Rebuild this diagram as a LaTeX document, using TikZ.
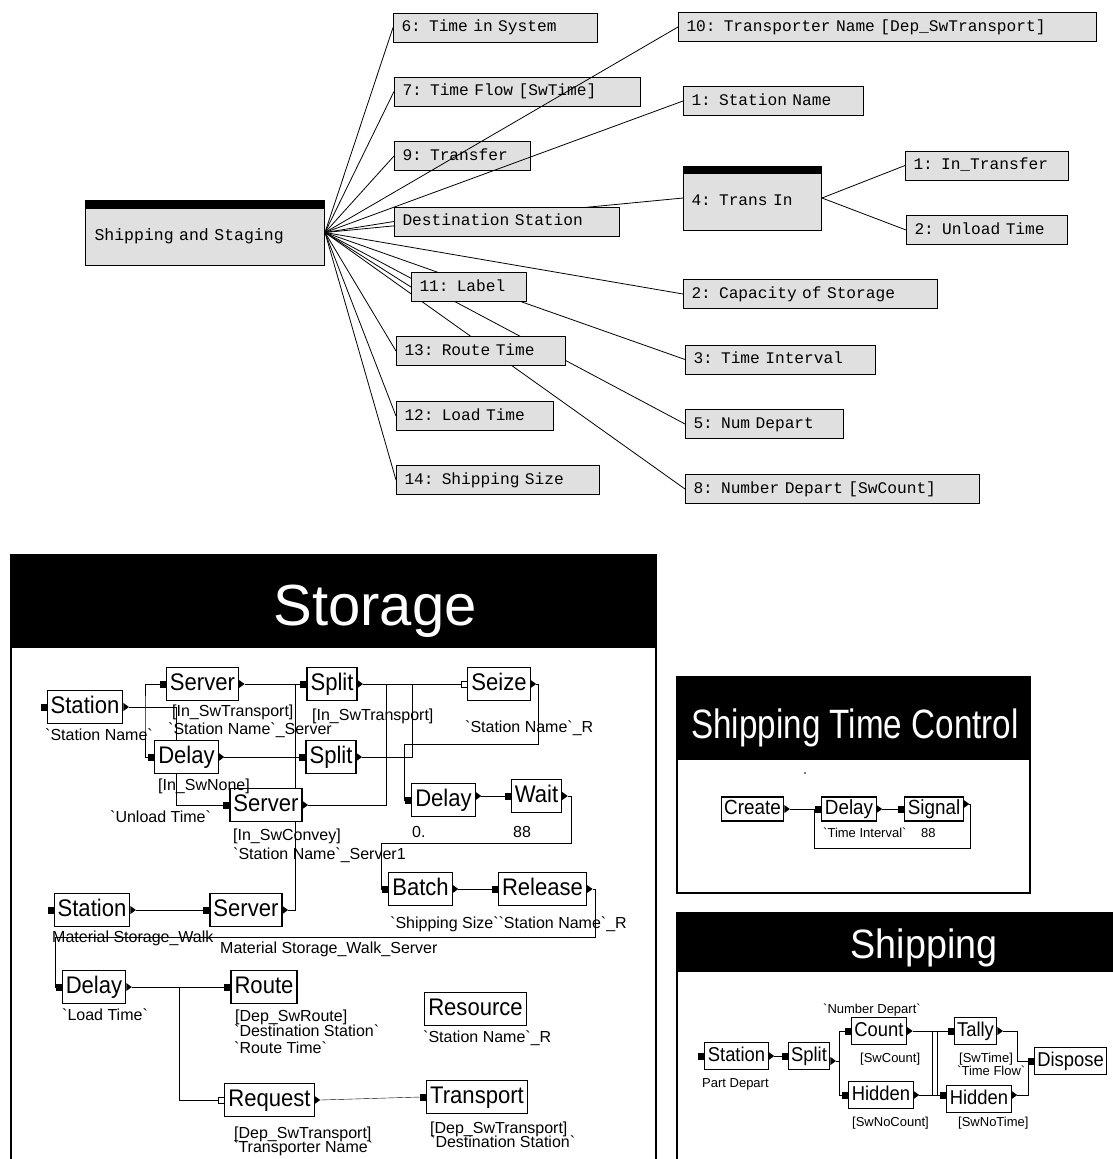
\documentclass[tikz,border=0pt]{standalone}
\usepackage{fontspec}
\newfontfamily\monofont{Liberation Mono}
\newfontfamily\sansfont{Liberation Sans}
\newfontfamily\narrowfont[FakeStretch=0.92]{Liberation Sans}
\newfontfamily\titlefont[FakeStretch=0.81]{Liberation Sans}
\usetikzlibrary{calc}
\pgfdeclarelayer{background}
\pgfsetlayers{background,main}

% grave quote as printed in the model labels
\newcommand{\bq}{\textasciigrave}
% port marks, given the port coordinate
\newcommand{\inmark}[1]{\fill ([yshift=-3.5pt]#1) rectangle ([xshift=6pt,yshift=3.5pt]#1);}
\newcommand{\hollowmark}[1]{\draw[line width=0.7pt,fill=white] ([yshift=-3pt]#1) rectangle ([xshift=6pt,yshift=3pt]#1);}
\newcommand{\outmark}[1]{\fill ([xshift=-5.5pt,yshift=4pt]#1) -- (#1) -- ([xshift=-5.5pt,yshift=-4pt]#1) -- cycle;}

\begin{document}
\begin{tikzpicture}[x=1pt, y=-1pt, line width=0.9pt,
  parm/.style={draw, fill=black!12, line width=1pt, anchor=west, inner xsep=8pt, inner ysep=0pt,
    minimum height=29pt, text height=11pt, text depth=3pt, text width=#1,
    font=\monofont\fontsize{16.2}{18}\selectfont},
  blk/.style={draw, fill=white, line width=1.1pt, inner xsep=3.5pt, inner ysep=0pt,
    minimum height=33pt, text height=18pt, text depth=5pt,
    font=\narrowfont\fontsize{24}{26}\selectfont},
  blks/.style={blk, minimum height=24pt, text height=15pt, text depth=4pt, inner xsep=3pt,
    font=\narrowfont\fontsize{20.5}{22}\selectfont},
  blkp/.style={blk, minimum height=27pt, text height=15pt, text depth=4pt, inner xsep=3pt,
    font=\narrowfont\fontsize{20}{22}\selectfont},
  lbl/.style={anchor=west, inner sep=0pt, text height=11.5pt, text depth=0pt,
    font=\sansfont\fontsize{16}{18}\selectfont},
  slbl/.style={anchor=west, inner sep=0pt, text height=9.3pt, text depth=0pt,
    font=\sansfont\fontsize{13}{15}\selectfont},
  title/.style={anchor=base, inner sep=0pt, text=white}]

\useasboundingbox (0,0) rectangle (1113,1159);

% ------------------------------------------------------------------
% === parameter tree ===============================================
\node[parm=221pt, minimum height=65pt, text height=17pt, text depth=2pt, inner xsep=9pt,
  font=\monofont\fontsize{16.5}{18}\selectfont] (root) at (85,232.5) {Shipping and Staging};
\fill (root.north west) rectangle ([yshift=-9pt]root.north east);

\node[parm=188pt] (b6)    at (393,27.5)  {6: Time in System};
\node[parm=209pt] (bdest) at (394,221.5) {Destination Station};
\node[parm=402pt] (b10)   at (678,27)    {10: Transporter Name [Dep\_SwTransport]};
\node[parm=164pt] (b1)    at (683,101)   {1: Station Name};
\node[parm=122pt, minimum height=64pt, text height=17pt, text depth=2pt] (trans) at (683,198) {4: Trans In};
\fill (trans.north west) rectangle ([yshift=-8pt]trans.north east);
\node[parm=147pt] (bin)   at (905,165.5) {1: In\_Transfer};
\node[parm=145pt] (bunl)  at (906,230)   {2: Unload Time};
\node[parm=238pt] (b2)    at (683,294)   {2: Capacity of Storage};
\node[parm=174pt] (b3)    at (685,359.5) {3: Time Interval};
\node[parm=142pt] (b5)    at (685,424)   {5: Num Depart};
\node[parm=278pt] (b8)    at (685,489)   {8: Number Depart [SwCount]};
\node[parm=99pt]  (b11)   at (411,287)   {11: Label};
\node[parm=153pt] (b13)   at (396,351)   {13: Route Time};
\node[parm=141pt] (b12)   at (396,416)   {12: Load Time};
\node[parm=187pt] (b14)   at (396,480)   {14: Shipping Size};

% lines run over 7 and 9, under the other boxes
\begin{pgfonlayer}{background}
\node[parm=230pt] (b7)    at (394,91.5)  {7: Time Flow [SwTime]};
\node[parm=120pt] (b9)    at (394,156)   {9: Transfer};
\foreach \boxname in {b6,b7,b9,bdest,b10,b1,trans,b2,b3,b5,b8,b11,b13,b12,b14}
  \draw[line width=0.8pt] (root.east) -- (\boxname.west);
\draw[line width=0.8pt] (trans.east) -- (bin.west);
\draw[line width=0.8pt] (trans.east) -- (bunl.west);
\end{pgfonlayer}

% === Storage ======================================================
\fill (11,555) rectangle (656,648);
\draw[line width=1.2pt] (11,555) rectangle (656,1175);
\node[title, font=\sansfont\fontsize{58}{60}\selectfont] (tstor) at (375,625) {Storage};

\node[blk] (st1) at (85,707)     {Station};
\node[blk] (sv1) at (202.5,684)  {Server};
\node[blk] (dl1) at (186.5,757)  {Delay};
\node[blk] (sv2) at (266,805)    {Server};
\node[blk] (sp1) at (332,684)    {Split};
\node[blk] (sp2) at (331,757)    {Split};
\node[blk] (sz)  at (499,684)    {Seize};
\node[blk] (dl2) at (443.5,800)  {Delay};
\node[blk] (wt)  at (536.5,796)  {Wait};
\node[blk] (bt)  at (420.5,889)  {Batch};
\node[blk] (rl)  at (542.5,889)  {Release};
\node[blk] (st2) at (92,910)     {Station};
\node[blk] (sv3) at (246,910)    {Server};
\node[blk] (dl3) at (94,987)     {Delay};
\node[blk] (rt)  at (264,987)    {Route};
\node[blk] (rs)  at (475.5,1009) {Resource};
\node[blk] (rq)  at (269.5,1100) {Request};
\node[blk] (tp)  at (477,1097)   {Transport};

\node[lbl] at (45,735)   {\bq Station Name\bq};
\node[lbl] at (172,711)  {[In\_SwTransport]};
\node[lbl] at (168,729)  {\bq Station Name\bq\_Server};
\node[lbl] at (158,785)  {[In\_SwNone]};
\node[lbl] at (110,817)  {\bq Unload Time\bq};
\node[lbl] at (233,835)  {[In\_SwConvey]};
\node[lbl] at (233,854)  {\bq Station Name\bq\_Server1};
\node[lbl] at (312,715)  {[In\_SwTransport]};
\node[lbl] at (465,727)  {\bq Station Name\bq\_R};
\node[lbl] at (412,832)  {0.};
\node[lbl] at (513,832)  {88};
\node[lbl] at (390,923)  {\bq Shipping Size\bq\bq Station Name\bq\_R};
\node[lbl] at (52,937)   {Material Storage\_Walk};
\node[lbl] at (220,948)  {Material Storage\_Walk\_Server};
\node[lbl] at (62,1015)  {\bq Load Time\bq};
\node[lbl] at (235,1016) {[Dep\_SwRoute]};
\node[lbl] at (234,1031) {\bq Destination Station\bq};
\node[lbl] at (234,1048) {\bq Route Time\bq};
\node[lbl] at (423,1037) {\bq Station Name\bq\_R};
\node[lbl] at (234,1133) {[Dep\_SwTransport]};
\node[lbl] at (233,1147) {\bq Transporter Name\bq};
\node[lbl] at (430,1128) {[Dep\_SwTransport]};
\node[lbl] at (430,1142) {\bq Destination Station\bq};

% === Shipping Time Control ========================================
\fill (677,677) rectangle (1030,760);
\draw[line width=1.2pt] (677,677) rectangle (1030,893);
\node[title, font=\titlefont\fontsize{41}{44}\selectfont] (tstc) at (855,738) {Shipping Time Control};
\fill (805,773) circle (0.8pt);

\node[blks] (cr)  at (752.5,809) {Create};
\node[blks] (dl4) at (849,809)   {Delay};
\node[blks] (sg)  at (934,809)   {Signal};

\node[slbl] at (823,833) {\bq Time Interval\bq};
\node[slbl] at (921,833) {88};

% === Shipping =====================================================
\fill (677,912) rectangle (1120,972);
\draw[line width=1.2pt] (677,912) -- (677,1175);
\node[title, font=\narrowfont\fontsize{41}{44}\selectfont] (tshp) at (924,958) {Shipping};

\node[blkp] (st3) at (736.5,1056) {Station};
\node[blkp] (sp3) at (809,1056)   {Split};
\node[blkp] (ct)  at (879,1031)   {Count};
\node[blkp] (hd1) at (881,1095)   {Hidden};
\node[blkp] (tl)  at (975.5,1031) {Tally};
\node[blkp] (hd2) at (979,1099)   {Hidden};
\node[blkp] (dp)  at (1070.5,1061) {Dispose};

\node[slbl] at (702,1083) {Part Depart};
\node[slbl] at (823,1009) {\bq Number Depart\bq};
\node[slbl] at (860,1058) {[SwCount]};
\node[slbl] at (852,1122) {[SwNoCount]};
\node[slbl] at (959,1058) {[SwTime]};
\node[slbl] at (957,1071) {\bq Time Flow\bq};
\node[slbl] at (958,1122) {[SwNoTime]};

% --- ports ---------------------------------------------------------
\foreach \nm in {st1,sv1,dl1,sv2,sp1,sp2,sz,dl2,wt,bt,rl,st2,sv3,dl3,rt,rq,tp,
                 cr,dl4,sg,st3,sp3,ct,hd1,tl,hd2,dp} {
  \coordinate (\nm-i) at ([xshift=-6pt]\nm.west);
  \coordinate (\nm-o) at ([xshift=5.5pt]\nm.east);
}
\coordinate (dl2-o) at ([xshift=5.5pt,yshift=4pt]dl2.east);
\coordinate (sg-o)  at ([xshift=5.5pt,yshift=5pt]sg.east);
\coordinate (hd2-i) at ([xshift=-6pt,yshift=4pt]hd2.west);
\coordinate (hd2-o) at ([xshift=5.5pt,yshift=4pt]hd2.east);
\coordinate (sp3-o) at ([xshift=5.5pt,yshift=-5pt]sp3.east);

% junctions
\coordinate (jA) at (176,707);   \coordinate (jB) at (145,707);
\coordinate (jC) at (295,684);   \coordinate (jD) at (386,684);
\coordinate (jE) at (412,684);   \coordinate (jF) at (538,744);
\coordinate (jG) at (404,800);   \coordinate (jH) at (571,843);
\coordinate (jI) at (381,889);   \coordinate (jJ) at (595,937);
\coordinate (jK) at (55,987);    \coordinate (jL) at (179,987);
\coordinate (jM) at (970,848);   \coordinate (jN) at (814,809);
\coordinate (jP) at (839,1061);  \coordinate (jQ) at (932,1031);
\coordinate (jR) at (932,1095);  \coordinate (jS) at (937,1031);
\coordinate (jT) at (937,1095);  \coordinate (jU) at (1017,1061);
\coordinate (jV) at (1028,1061);

% --- connectors ----------------------------------------------------
\begin{pgfonlayer}{background}
\draw (st1-o) -- (jA) |- (sv2-i);
\draw (sv1-i) -| (jB) |- (dl1-i);
\draw (sv1-o) -- (sp1-i);
\draw (sv3-o) -| (jC);
\draw (dl1-o) -- (sp2-i);
\draw (sp1-o) -- (sz-i);
\draw (sv2-o) -| (jD);
\draw (sp2-o) -| (jE);
\draw (sz-o) -| (jF) -| (jG) -- (dl2-i);
\draw (dl2-o) -- (wt-i);
\draw (wt-o) -| (jH) -| (jI) -- (bt-i);
\draw (bt-o) -- (rl-i);
\draw (rl-o) -| (jJ) -| (jK) -- (dl3-i);
\draw (st2-o) -- (sv3-i);
\draw (dl3-o) -- (rt-i);
\draw (jL) |- (rq-i);
\draw (rq-o) -- (tp-i);

\draw (cr-o) -- (dl4-i);
\draw (dl4-o) -- (sg-i);
\draw (sg-o) -| (jM) -| (jN);

\draw (st3-o) -- (sp3-i);
\draw (ct-i) -| (jP) |- (hd1-i);
\draw (sp3-o) -- (jP);
\draw (ct-o) -- (tl-i);
\draw (hd1-o) -- (hd2-i);
\draw (jQ) -- (jR);
\draw (jS) -- (jT);
\draw (tl-o) -| (jU) -- (dp-i);
\draw (hd2-o) -| (jV);
\end{pgfonlayer}

% --- port marks ----------------------------------------------------
\foreach \nm in {st1,sv1,dl1,sv2,sp1,sp2,dl2,wt,bt,rl,st2,sv3,dl3,rt,tp,
                 dl4,sg,st3,sp3,ct,hd1,tl,hd2,dp}
  {\inmark{\nm-i}}
\foreach \nm in {sz,rq}
  {\hollowmark{\nm-i}}
\foreach \nm in {st1,sv1,dl1,sv2,sp1,sp2,sz,dl2,wt,bt,rl,st2,sv3,dl3,rq,
                 cr,dl4,sg,st3,sp3,ct,hd1,tl,hd2}
  {\outmark{\nm-o}}

\end{tikzpicture}
\end{document}
